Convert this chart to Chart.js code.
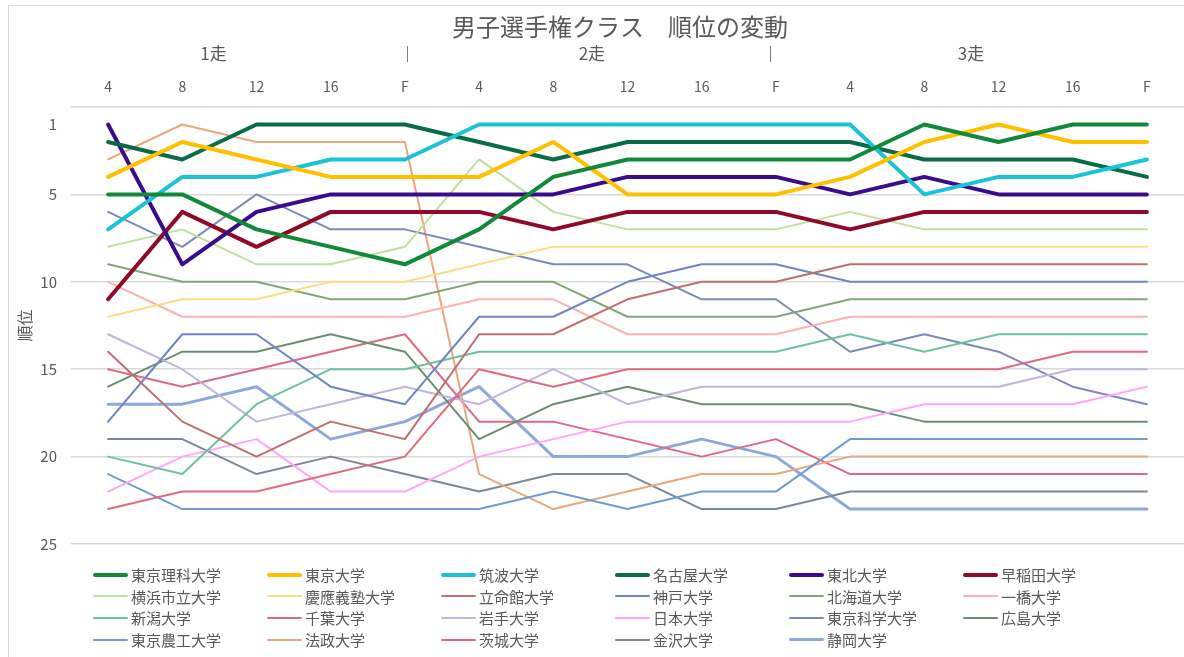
<!DOCTYPE html>
<html lang="ja">
<head>
<meta charset="utf-8">
<title>男子選手権クラス 順位の変動</title>
<script src="https://cdn.jsdelivr.net/npm/chart.js@4.4.1/dist/chart.umd.min.js"></script>
<style>
  html,body{margin:0;padding:0;background:#fff;}
  body{width:1184px;height:657px;overflow:hidden;position:relative;font-family:"Noto Sans CJK JP","Noto Sans",sans-serif;}
  #frame{position:absolute;left:8px;top:5px;width:1200px;height:680px;border:1px solid #d9d9d9;box-sizing:border-box;}
  #chart{position:absolute;left:0;top:0;}
  #legend{position:absolute;left:93px;top:564px;display:grid;grid-template-columns:repeat(6,174px);grid-auto-rows:21.6px;}
  .item{display:flex;align-items:center;font-size:15px;color:#595959;white-space:nowrap;}
  .swatch{width:35px;margin-right:3px;border-radius:2px;}
</style>
</head>
<body>
<div id="frame"></div>
<canvas id="chart" width="1184" height="657"></canvas>
<div id="legend"></div>
<script>
// --- data ---
const chartTitle = '男子選手権クラス　順位の変動';
const legs = ['1走', '2走', '3走'];
const checkpoints = ['4', '8', '12', '16', 'F'];
const categories = legs.flatMap(() => checkpoints);
const rankTicks = [0, 1, 5, 10, 15, 20, 25];

const teams = ['東京理科大学','東京大学','筑波大学','名古屋大学','東北大学','早稲田大学',
  '横浜市立大学','慶應義塾大学','立命館大学','神戸大学','北海道大学','一橋大学',
  '新潟大学','千葉大学','岩手大学','日本大学','東京科学大学','広島大学',
  '東京農工大学','法政大学','茨城大学','金沢大学','静岡大学'];

// ranks per checkpoint (1走 4..F, 2走 4..F, 3走 4..F)
const tokyoRika  = [5,5,7,8,9,   7,4,3,3,3,   3,1,2,1,1];
const tokyo      = [4,2,3,4,4,   4,2,5,5,5,   4,2,1,2,2];
const tsukuba    = [7,4,4,3,3,   1,1,1,1,1,   1,5,4,4,3];
const nagoya     = [2,3,1,1,1,   2,3,2,2,2,   2,3,3,3,4];
const tohoku     = [1,9,6,5,5,   5,5,4,4,4,   5,4,5,5,5];
const waseda     = [11,6,8,6,6,  6,7,6,6,6,   7,6,6,6,6];
const yokohama   = [8,7,9,9,8,   3,6,7,7,7,   6,7,7,7,7];
const keio       = [12,11,11,10,10, 9,8,8,8,8, 8,8,8,8,8];
const ritsumei   = [14,18,20,18,19, 13,13,11,10,10, 9,9,9,9,9];
const kobe       = [18,13,13,16,17, 12,12,10,9,9, 10,10,10,10,10];
const hokkaido   = [9,10,10,11,11, 10,10,12,12,12, 11,11,11,11,11];
const hitotsu    = [10,12,12,12,12, 11,11,13,13,13, 12,12,12,12,12];
const niigata    = [20,21,17,15,15, 14,14,14,14,14, 13,14,13,13,13];
const chiba      = [23,22,22,21,20, 15,16,15,15,15, 15,15,15,14,14];
const iwate      = [13,15,18,17,16, 17,15,17,16,16, 16,16,16,15,15];
const nihon      = [22,20,19,22,22, 20,19,18,18,18, 18,17,17,17,16];
const kagaku     = [6,8,5,7,7,   8,9,9,11,11, 14,13,14,16,17];
const hiroshima  = [16,14,14,13,14, 19,17,16,17,17, 17,18,18,18,18];
const noko       = [21,23,23,23,23, 23,22,23,22,22, 19,19,19,19,19];
const hosei      = [3,1,2,2,2,   21,23,22,21,21, 20,20,20,20,20];
const ibaraki    = [15,16,15,14,13, 18,18,19,20,19, 21,21,21,21,21];
const kanazawa   = [19,19,21,20,21, 22,21,21,23,23, 22,22,22,22,22];
const shizuoka   = [17,17,16,19,18, 16,20,20,19,20, 23,23,23,23,23];

const series = [tokyoRika, tokyo, tsukuba, nagoya, tohoku, waseda,
  yokohama, keio, ritsumei, kobe, hokkaido, hitotsu,
  niigata, chiba, iwate, nihon, kagaku, hiroshima,
  noko, hosei, ibaraki, kanazawa, shizuoka];

const colors = ['#12893a','#ffc000','#1cc3d6','#0b6b47','#3a0c8c','#8e0a26',
  '#c2df9e','#f9df83','#bf6f6f','#6f86c6','#83a877','#fdb2ae',
  '#6fc19f','#df6b80','#c1b5dc','#ffa6f8','#7c8ab8','#6b8e73',
  '#6f9dd3','#eaa67d','#dc6986','#7d8896','#8fa8da'];
const widths = [4,4,4,4,4,4, 2,2,2,2,2,2, 2,2,2,2,2,2, 2,2,2,2,3];

const textColor = '#595959';
Chart.defaults.font.family = "'Noto Sans CJK JP','Noto Sans',sans-serif";
Chart.defaults.color = textColor;

// title, leg labels and separators above the top axis
const headerPlugin = {
  id: 'header',
  afterDraw(chart) {
    const ctx = chart.ctx, xs = chart.scales.x;
    ctx.save();
    ctx.fillStyle = textColor;
    ctx.textAlign = 'center';
    ctx.textBaseline = 'middle';
    ctx.font = "24px 'Noto Sans CJK JP'";
    ctx.fillText(chartTitle, 620, 27);
    ctx.font = "17px 'Noto Sans CJK JP'";
    const legPos = [1.42, 6.52, 11.63];
    legs.forEach((l, i) => ctx.fillText(l, xs.getPixelForValue(legPos[i]), 54));
    ctx.strokeStyle = '#7f7f7f';
    ctx.lineWidth = 1;
    [4.03, 8.92].forEach(p => {
      const x = Math.round(xs.getPixelForValue(p)) + 0.5;
      ctx.beginPath(); ctx.moveTo(x, 46); ctx.lineTo(x, 62); ctx.stroke();
    });
    ctx.restore();
  }
};

const chart = new Chart(document.getElementById('chart'), {
  type: 'line',
  data: {
    labels: categories,
    datasets: teams.map((t, i) => ({
      label: t,
      data: series[i],
      borderColor: colors[i],
      backgroundColor: colors[i],
      borderWidth: widths[i],
      pointRadius: 0,
      tension: 0,
      borderJoinStyle: 'round',
      borderCapStyle: 'round'
    }))
  },
  options: {
    responsive: false,
    animation: false,
    devicePixelRatio: 1,
    layout: { padding: { left: 0, right: 0, top: 0, bottom: 113 } },
    plugins: { legend: { display: false }, title: { display: false }, tooltip: { enabled: false } },
    scales: {
      x: {
        position: 'top',
        offset: true,
        grid: { display: false, drawTicks: false },
        border: { display: false },
        ticks: { font: { size: 14 }, color: textColor, padding: 12, maxRotation: 0, autoSkip: false },
        afterFit: s => { s.height = 107; }
      },
      y: {
        reverse: true,
        min: 0,
        max: 25,
        afterBuildTicks: s => { s.ticks = rankTicks.map(v => ({ value: v })); },
        ticks: {
          font: { size: 15 }, color: textColor, padding: 14,
          callback: v => (v === 0 ? '' : v)
        },
        grid: {
          drawTicks: false,
          color: c => (c.tick && c.tick.value === 1 ? 'rgba(0,0,0,0)' : '#d9d9d9'),
          lineWidth: 1.5
        },
        border: { display: false },
        title: { display: true, text: '順位', font: { size: 16 }, color: textColor, padding: { top: 15, bottom: 0 } },
        afterFit: s => { s.width = 71; }
      }
    }
  },
  plugins: [headerPlugin]
});

// legend in six fixed columns, built from the datasets
const legendEl = document.getElementById('legend');
chart.data.datasets.forEach(ds => {
  const item = document.createElement('div');
  item.className = 'item';
  const sw = document.createElement('span');
  sw.className = 'swatch';
  sw.style.height = ds.borderWidth + 'px';
  sw.style.background = ds.borderColor;
  item.appendChild(sw);
  item.appendChild(document.createTextNode(ds.label));
  legendEl.appendChild(item);
});
</script>
</body>
</html>
